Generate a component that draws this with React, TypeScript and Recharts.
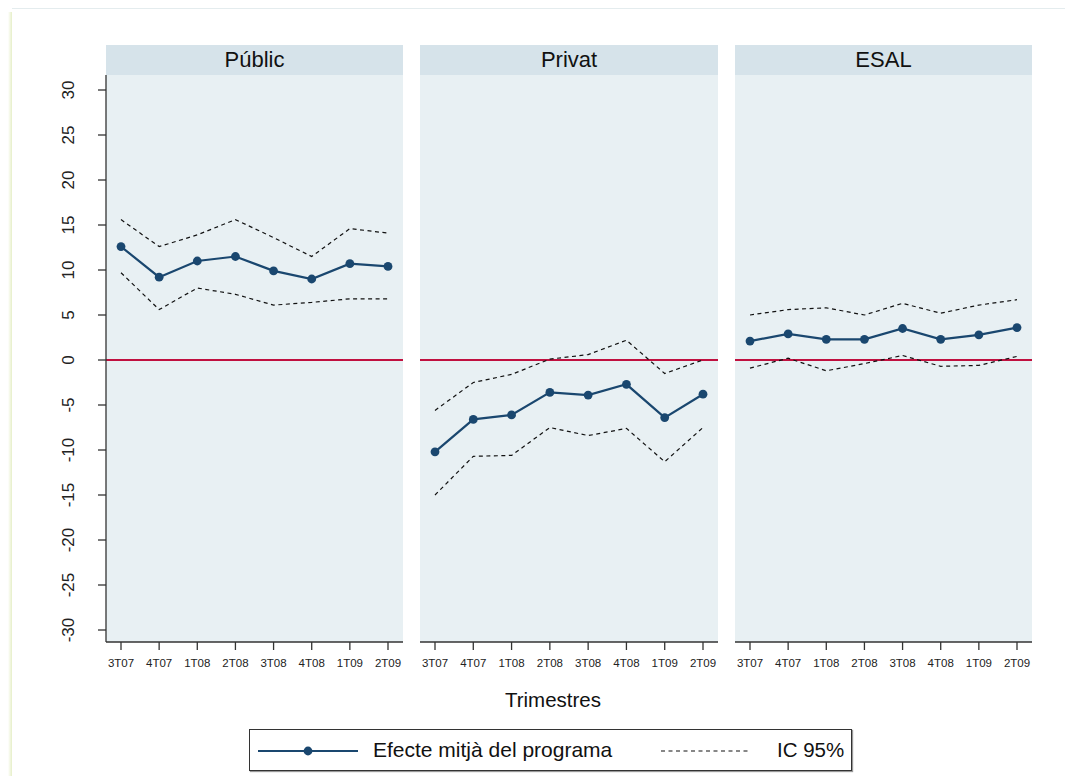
import React from 'react';
import { LineChart, Line, XAxis, YAxis, CartesianGrid, ReferenceLine } from 'recharts';

const quarters = ['3T07', '4T07', '1T08', '2T08', '3T08', '4T08', '1T09', '2T09'];
const yTicks = [-30, -25, -20, -15, -10, -5, 0, 5, 10, 15, 20, 25, 30];

const publicMean = [12.6, 9.2, 11.0, 11.5, 9.9, 9.0, 10.7, 10.4];
const publicUpper = [15.6, 12.6, 13.9, 15.6, 13.6, 11.5, 14.6, 14.1];
const publicLower = [9.7, 5.6, 8.0, 7.3, 6.1, 6.4, 6.8, 6.8];

const privatMean = [-10.2, -6.6, -6.1, -3.6, -3.9, -2.7, -6.4, -3.8];
const privatUpper = [-5.6, -2.5, -1.6, 0.1, 0.6, 2.2, -1.5, 0.0];
const privatLower = [-15.0, -10.7, -10.6, -7.5, -8.4, -7.6, -11.3, -7.5];

const esalMean = [2.1, 2.9, 2.3, 2.3, 3.5, 2.3, 2.8, 3.6];
const esalUpper = [5.0, 5.6, 5.8, 5.0, 6.3, 5.2, 6.1, 6.7];
const esalLower = [-0.9, 0.2, -1.2, -0.4, 0.5, -0.7, -0.6, 0.4];

const FONT = '"Liberation Sans", Arial, Helvetica, sans-serif';
const NAVY = '#1a476f';
const PLOT_BG = '#e8f0f3';
const HEAD_BG = '#d6e3ea';
const AXIS = '#333333';

const buildRows = (mean: number[], upper: number[], lower: number[]) =>
    quarters.map((q, i) => ({ q, mean: mean[i], upper: upper[i], lower: lower[i] }));

const YTick = (props: any) => {
    const { y, payload } = props;
    const x = 74;
    return (
        <text x={x} y={y} transform={`rotate(-90, ${x}, ${y})`} textAnchor="middle"
            fontSize={17} fill="#222" fontFamily={FONT}>
            {payload.value}
        </text>
    );
};

interface PanelProps {
    title: string;
    left: number;
    plotLeft: number;
    plotWidth: number;
    mean: number[];
    upper: number[];
    lower: number[];
    showY?: boolean;
}

const Panel: React.FC<PanelProps> = ({ title, left, plotLeft, plotWidth, mean, upper, lower, showY }) => {
    const data = buildRows(mean, upper, lower);
    const yw = plotLeft - left;
    return (
        <>
            <div style={{
                position: 'absolute', left: plotLeft, top: 45, width: plotWidth, height: 30,
                background: HEAD_BG, textAlign: 'center', lineHeight: '30px', fontSize: 22,
                fontFamily: FONT, color: '#111',
            }}>{title}</div>
            <div style={{ position: 'absolute', left, top: 75 }}>
                <LineChart width={yw + plotWidth} height={612} data={data}
                    margin={{ top: 0, right: 0, bottom: 0, left: 0 }}>
                    <CartesianGrid horizontal={false} vertical={false} fill={PLOT_BG} stroke="none" />
                    <XAxis dataKey="q" interval={0} tickSize={8} tickMargin={9} height={45}
                        padding={{ left: 15, right: 15 }}
                        axisLine={{ stroke: AXIS, strokeWidth: 1.3 }}
                        tickLine={{ stroke: AXIS, strokeWidth: 1.3 }}
                        tick={{ fontSize: 11.5, fill: '#222', fontFamily: FONT }} />
                    <YAxis type="number" domain={[-31.333, 31.667]} ticks={yTicks} interval={0}
                        width={showY ? yw : 0} hide={!showY} tickSize={8}
                        axisLine={{ stroke: AXIS, strokeWidth: 1.3 }}
                        tickLine={{ stroke: AXIS, strokeWidth: 1.3 }}
                        tick={<YTick />} allowDataOverflow />
                    <ReferenceLine y={0} stroke="#c0103f" strokeWidth={2} />
                    <Line dataKey="upper" stroke="#111" strokeWidth={1.2} strokeDasharray="4 3.5"
                        dot={false} activeDot={false} isAnimationActive={false} />
                    <Line dataKey="lower" stroke="#111" strokeWidth={1.2} strokeDasharray="4 3.5"
                        dot={false} activeDot={false} isAnimationActive={false} />
                    <Line dataKey="mean" stroke={NAVY} strokeWidth={2.2}
                        dot={{ r: 4.4, fill: NAVY, stroke: NAVY, strokeWidth: 0 }}
                        activeDot={false} isAnimationActive={false} />
                </LineChart>
            </div>
        </>
    );
};

export default function App() {
    return (
        <div style={{ position: 'absolute', left: 0, top: 0, width: 1065, height: 776, background: '#fff', overflow: 'hidden', fontFamily: FONT }}>
            {/* outer frame hints */}
            <div style={{ position: 'absolute', left: 12, top: 8, width: 1053, height: 1, background: '#e4ecee' }} />
            <div style={{ position: 'absolute', left: 8, top: 12, width: 4, height: 764, background: 'linear-gradient(to right, #ffffff, #e6efc8)' }} />

            <Panel title="Públic" left={0} plotLeft={106} plotWidth={297}
                mean={publicMean} upper={publicUpper} lower={publicLower} showY />
            <Panel title="Privat" left={420} plotLeft={420} plotWidth={298}
                mean={privatMean} upper={privatUpper} lower={privatLower} />
            <Panel title="ESAL" left={735} plotLeft={735} plotWidth={297}
                mean={esalMean} upper={esalUpper} lower={esalLower} />

            <div style={{ position: 'absolute', left: 453, top: 688, width: 200, textAlign: 'center', fontSize: 20.5, color: '#111' }}>
                Trimestres
            </div>

            <div style={{
                position: 'absolute', left: 249, top: 729, width: 601, height: 40,
                border: '1px solid #333', boxShadow: '1px 1px 1px #999', background: '#fff',
            }}>
                <svg width={601} height={40} style={{ position: 'absolute', left: 0, top: 0 }}>
                    <line x1={8} x2={108} y1={21} y2={21} stroke={NAVY} strokeWidth={2.2} />
                    <circle cx={58} cy={21} r={4.4} fill={NAVY} />
                    <line x1={411} x2={501} y1={21} y2={21} stroke="#111" strokeWidth={1.2} strokeDasharray="4 3.5" />
                </svg>
                <span style={{ position: 'absolute', left: 123, top: 8, fontSize: 21, color: '#111', whiteSpace: 'nowrap' }}>
                    Efecte mitjà del programa
                </span>
                <span style={{ position: 'absolute', left: 527, top: 8, fontSize: 20.5, color: '#111', whiteSpace: 'nowrap' }}>
                    IC 95%
                </span>
            </div>
        </div>
    );
}
